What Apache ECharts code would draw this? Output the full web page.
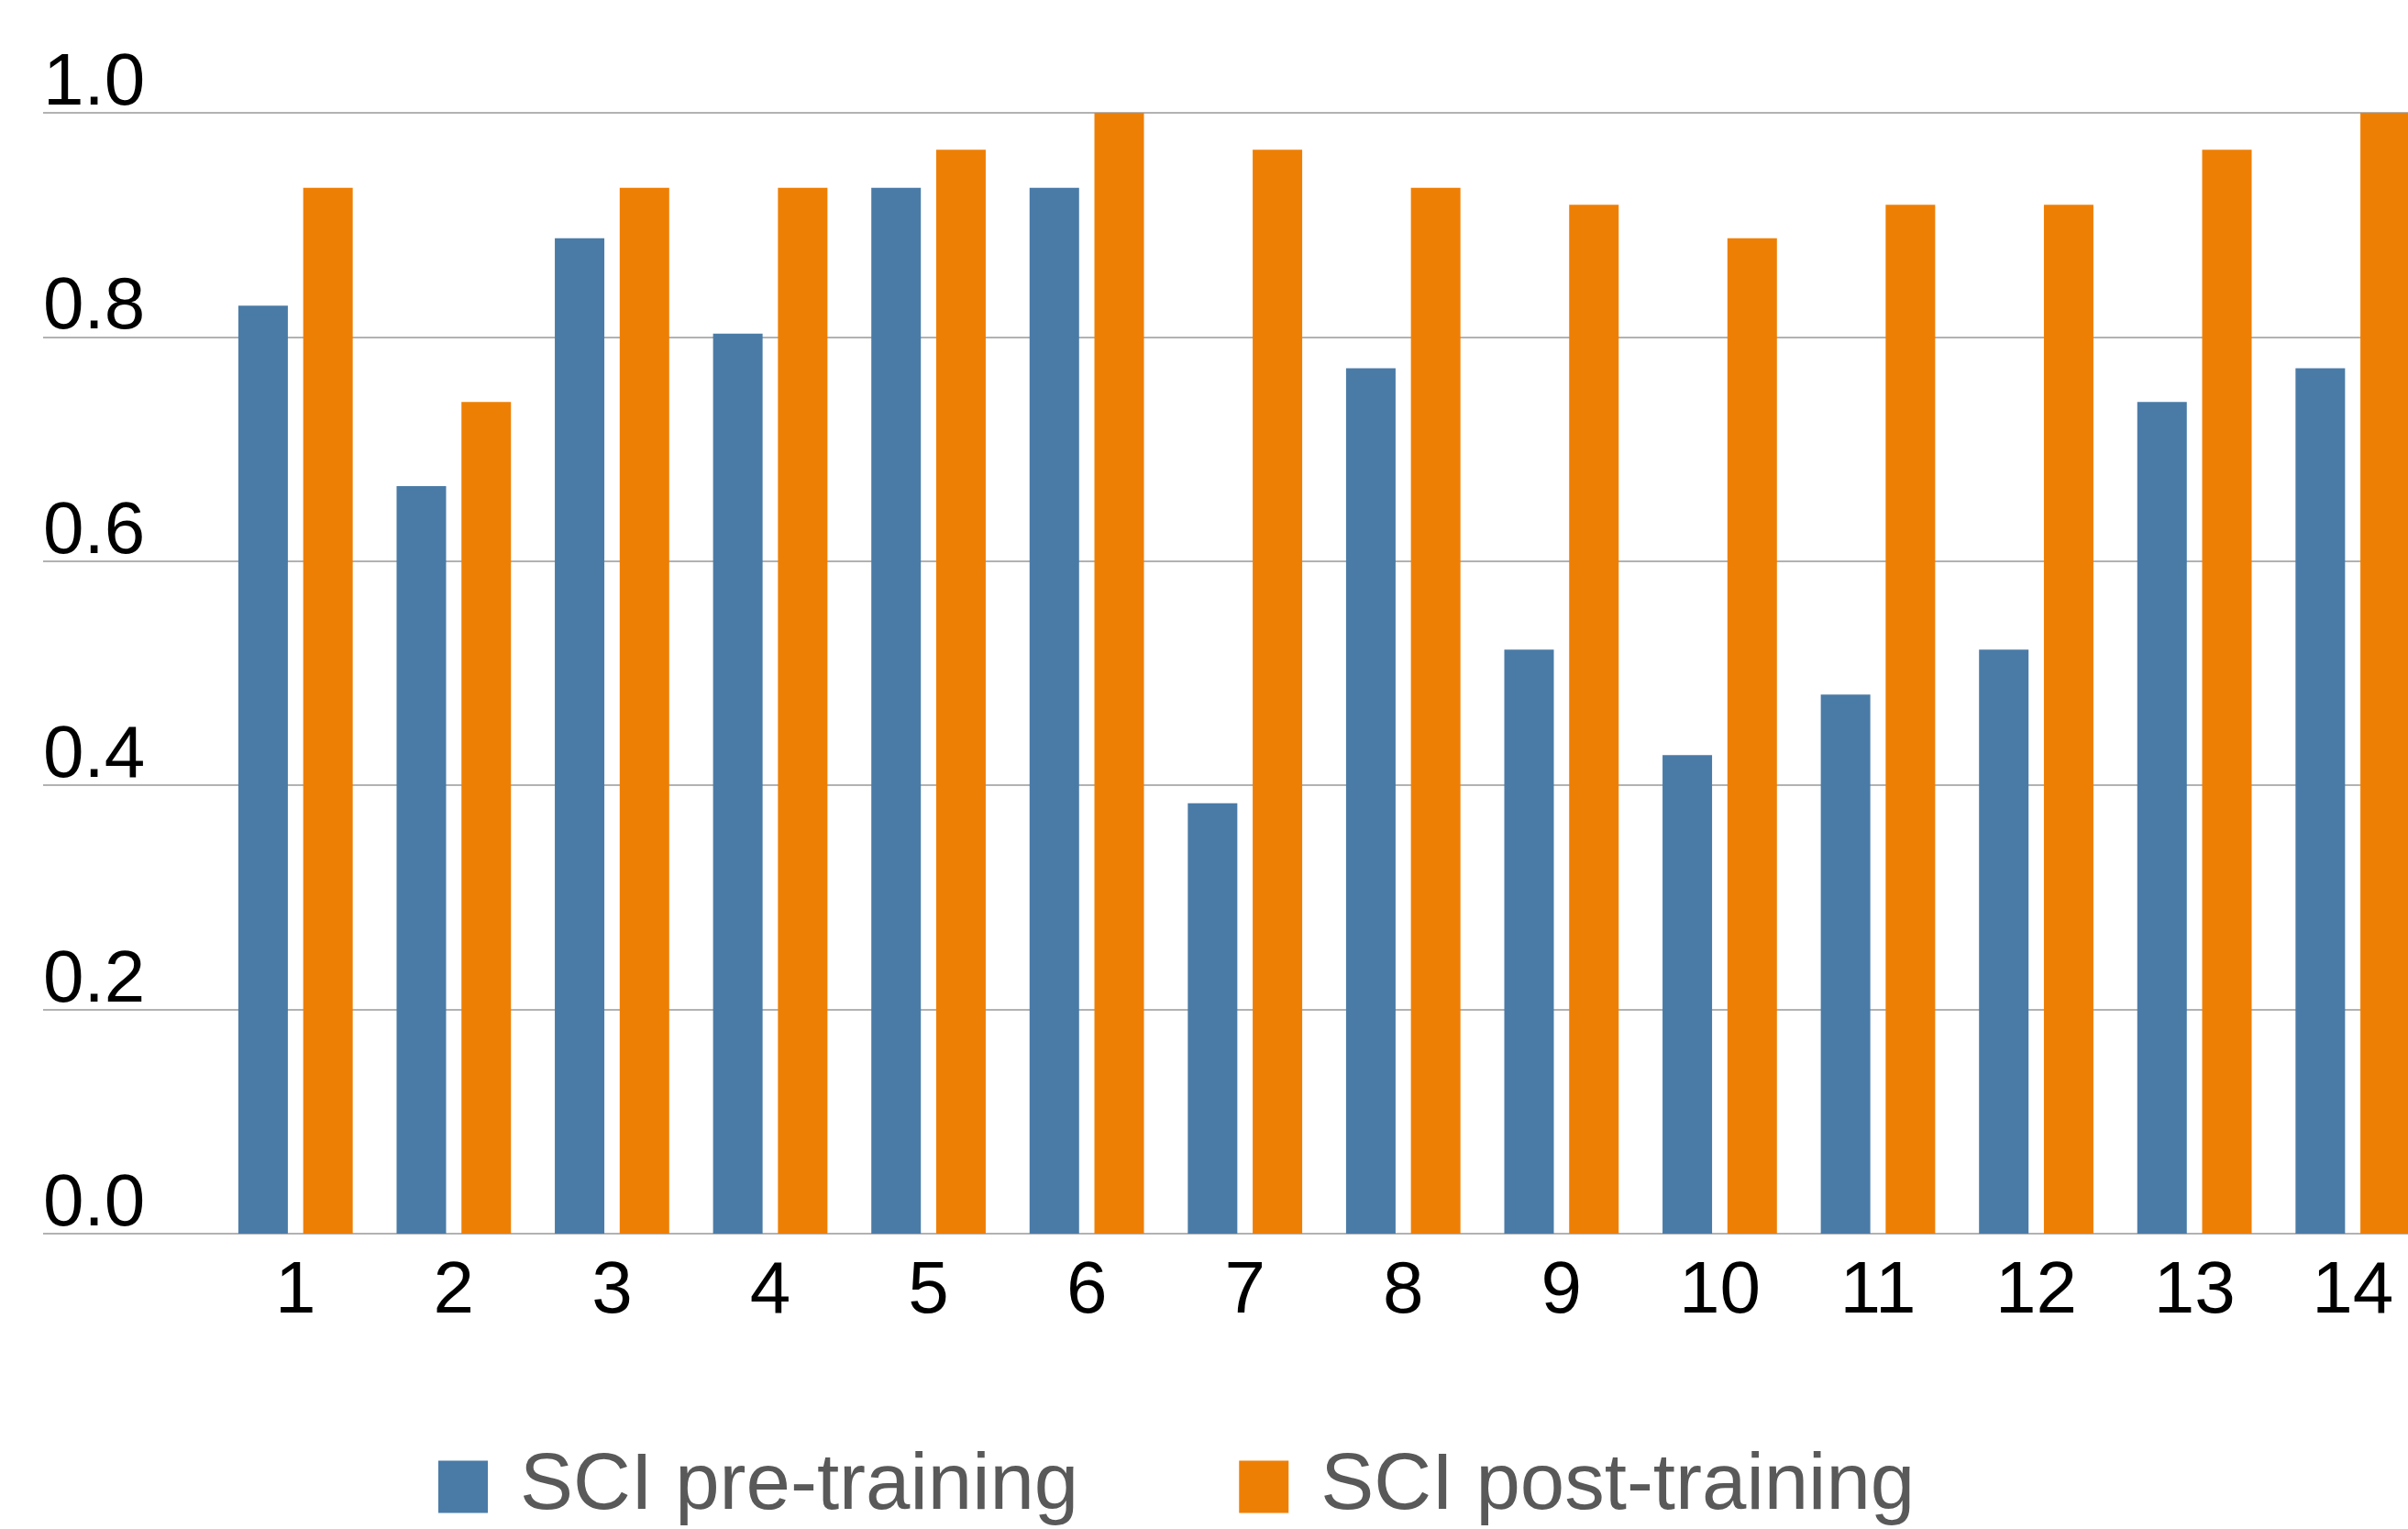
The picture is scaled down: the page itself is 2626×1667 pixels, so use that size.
<!DOCTYPE html>
<html>
<head>
<meta charset="utf-8">
<script src="https://cdn.jsdelivr.net/npm/echarts@6/dist/echarts.min.js"></script>
<style>
html,body{margin:0;padding:0;background:#fff;overflow:hidden;}
#chart{width:2652px;height:1667px;}
</style>
</head>
<body>
<div id="chart"></div>
<script>
const categories = ['1','2','3','4','5','6','7','8','9','10','11','12','13','14'];
const preTraining = [0.828, 0.667, 0.888, 0.803, 0.933, 0.933, 0.384, 0.772, 0.521, 0.427, 0.481, 0.521, 0.742, 0.772];
const postTraining = [0.933, 0.742, 0.933, 0.933, 0.967, 1.0, 0.967, 0.933, 0.918, 0.888, 0.918, 0.918, 0.967, 1.0];
const seriesNames = ['SCI pre-training', 'SCI post-training'];
const colors = ['#4a7ba7', '#ee7f05'];
const yTicks = { min: 0, max: 1, interval: 0.2 };

const FONT = "'Liberation Sans', 'Helvetica Neue', Arial, sans-serif";
const chart = echarts.init(document.getElementById('chart'), null, { renderer: 'canvas' });

chart.setOption({
  backgroundColor: '#ffffff',
  animation: false,
  color: colors,
  textStyle: { fontFamily: FONT },
  grid: [
    { left: 47, right: 0, top: 123, height: 1222 },
    { left: 236, width: 2416, top: 123, height: 1222 }
  ],
  xAxis: [
    { type: 'category', gridIndex: 0, data: categories, show: false },
    {
      type: 'category', gridIndex: 1, data: categories,
      axisLine: { show: false }, axisTick: { show: false },
      axisLabel: { fontSize: 80, color: '#000', fontFamily: FONT, margin: 24, lineHeight: 80 }
    }
  ],
  yAxis: [
    {
      type: 'value', gridIndex: 0, min: yTicks.min, max: yTicks.max, interval: yTicks.interval,
      axisLine: { show: false }, axisTick: { show: false },
      splitLine: { show: true, lineStyle: { color: '#999', width: 1.5 } },
      axisLabel: {
        inside: true, margin: 0, fontSize: 80, color: '#000', fontFamily: FONT,
        verticalAlign: 'bottom', lineHeight: 62, align: 'left',
        formatter: v => v.toFixed(1)
      }
    },
    {
      type: 'value', gridIndex: 1, min: yTicks.min, max: yTicks.max, interval: yTicks.interval,
      show: false, splitLine: { show: false }
    }
  ],
  legend: {
    data: seriesNames,
    left: 473, top: 1572,
    itemWidth: 54, itemHeight: 57, itemGap: 175,
    icon: 'rect',
    textStyle: { fontSize: 87, color: '#595959', fontFamily: FONT, lineHeight: 88, padding: [0, 0, 0, 30] }
  },
  series: [
    {
      name: seriesNames[0], type: 'bar', xAxisIndex: 1, yAxisIndex: 1,
      data: preTraining, barWidth: 54, barGap: '31%', itemStyle: { color: colors[0] }
    },
    {
      name: seriesNames[1], type: 'bar', xAxisIndex: 1, yAxisIndex: 1,
      data: postTraining, barWidth: 54, barGap: '31%', itemStyle: { color: colors[1] }
    }
  ]
});
</script>
</body>
</html>
